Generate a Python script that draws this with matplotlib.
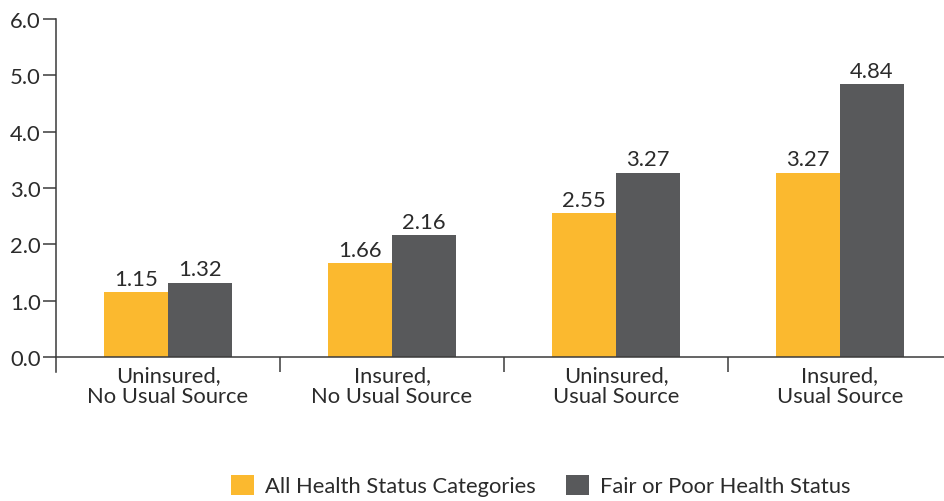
import matplotlib
matplotlib.use("Agg")
import matplotlib.pyplot as plt
from matplotlib.patches import Patch
import numpy as np

categories = ["Uninsured,\nNo Usual Source", "Insured,\nNo Usual Source",
              "Uninsured,\nUsual Source", "Insured,\nUsual Source"]
all_health = [1.15, 1.66, 2.55, 3.27]
fair_poor = [1.32, 2.16, 3.27, 4.84]
series_names = ["All Health Status Categories", "Fair or Poor Health Status"]
yticks = [0, 1, 2, 3, 4, 5, 6]

YELLOW = "#FBB92F"
GRAY = "#58595B"
TXT = "#2B2B2B"
FS = 15.8

plt.rcParams['font.family'] = ['Lato', 'DejaVu Sans']

fig = plt.figure(figsize=(9.44, 5.02), dpi=100)
ax = fig.add_axes([56/944, 1-373/502, 888/944, (373-20)/502])

x = np.arange(len(categories))
w = 64/224
ax.bar(x - w/2, all_health, w, color=YELLOW, label=series_names[0])
ax.bar(x + w/2, fair_poor, w, color=GRAY, label=series_names[1])

for xi, v in zip(x - w/2, all_health):
    ax.text(xi, v + 0.06, f"{v:.2f}", ha='center', va='bottom', fontsize=FS, color=TXT)
for xi, v in zip(x + w/2, fair_poor):
    ax.text(xi, v + 0.06, f"{v:.2f}", ha='center', va='bottom', fontsize=FS, color=TXT)

ax.set_xlim(-0.5, -0.5 + 888/224)
ax.set_ylim(-15/56.3, 6)
ax.set_yticks(yticks)
ax.set_yticklabels([f"{t:.1f}" for t in yticks], fontsize=FS, color=TXT)

ax.spines['top'].set_visible(False)
ax.spines['right'].set_visible(False)
ax.spines['bottom'].set_position(('data', 0))
for s in ['left', 'bottom']:
    ax.spines[s].set_color('#3A3A3A')
    ax.spines[s].set_linewidth(1.1)

ax.tick_params(axis='y', direction='out', length=9.5, width=1.1, color='#3A3A3A', pad=1.5)
ax.set_xticks(x)
ax.set_xticklabels(categories, fontsize=FS, color=TXT, linespacing=1.05)
ax.tick_params(axis='x', which='major', length=0, pad=6)
ax.set_xticks([0.5, 1.5, 2.5], minor=True)
ax.tick_params(axis='x', which='minor', direction='out', length=10.5, width=1.1, color='#3A3A3A')

handles = [Patch(facecolor=YELLOW, edgecolor='none'), Patch(facecolor=GRAY, edgecolor='none')]
fig.legend(handles, series_names, loc='lower center', bbox_to_anchor=(0.573, -0.03), ncol=2,
           frameon=False, fontsize=FS, handlelength=1.05, handleheight=1.05,
           handletextpad=0.5, columnspacing=1.4, labelcolor=TXT)

fig.savefig("out.png", dpi=100)
